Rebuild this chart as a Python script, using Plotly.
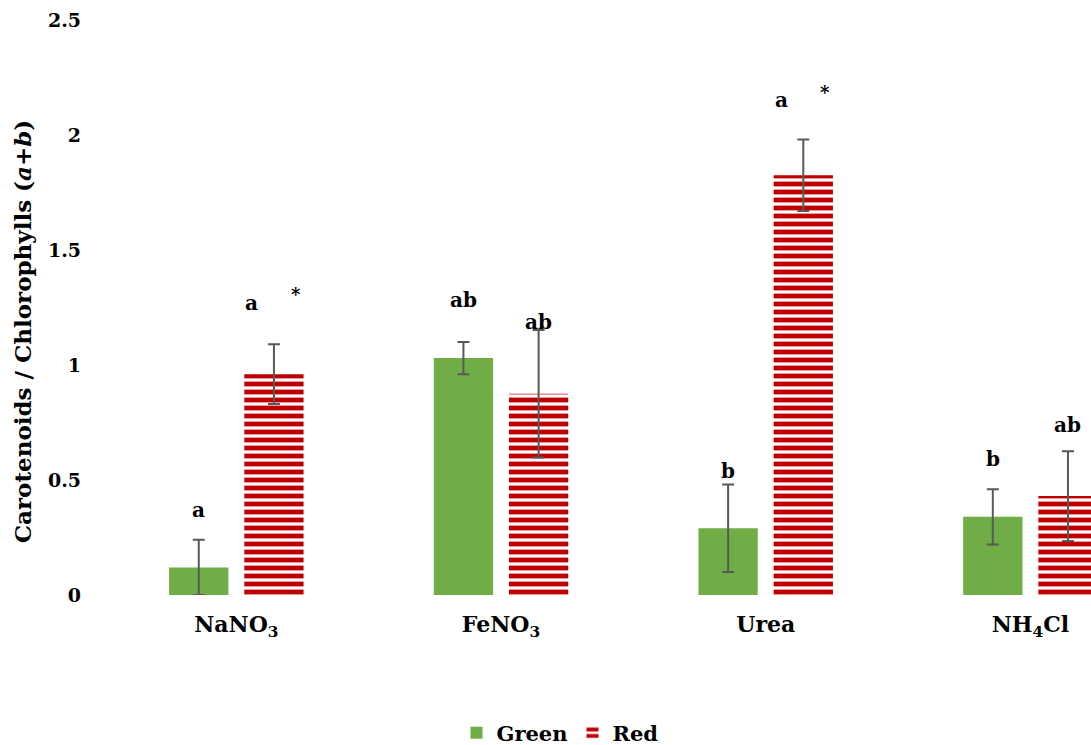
import plotly.graph_objects as go

categories = ["NaNO<sub>3</sub>", "FeNO<sub>3</sub>", "Urea", "NH<sub>4</sub>Cl"]
green = [0.12, 1.03, 0.29, 0.34]
green_err = [0.12, 0.07, 0.19, 0.12]
red = [0.96, 0.875, 1.825, 0.43]
red_err = [0.13, 0.277, 0.155, 0.195]
green_letters = ["a", "ab", "b", "b"]
red_letters = ["a", "ab", "a", "ab"]
red_star = ["*", "", "*", ""]
green_letter_y = [0.37, 1.283, 0.539, 0.591]
red_letter_y = [1.27, 1.187, 2.152, 0.739]
yticks = [0, 0.5, 1, 1.5, 2, 2.5]

FONT = "DejaVu Serif"
GREEN = "#70AD47"
RED = "#C00000"
ERR = "#595959"

idx = list(range(len(categories)))
W = 0.224
OFF_G = -0.254
OFF_R = 0.030

fig = go.Figure()
fig.add_trace(go.Bar(
    x=idx, y=green, name="Green", width=W, offset=OFF_G,
    marker=dict(color=GREEN, line=dict(width=0)),
    error_y=dict(type="data", array=green_err, visible=True, color=ERR, thickness=2, width=6),
))
fig.add_trace(go.Bar(
    x=idx, y=red, name="Red", width=W, offset=OFF_R,
    marker=dict(color=RED, line=dict(width=0),
                pattern=dict(shape="-", size=8, solidity=0.6, fgcolor=RED, fgopacity=1,
                             bgcolor="white", fillmode="replace")),
    error_y=dict(type="data", array=red_err, visible=True, color=ERR, thickness=2, width=6),
))

ann = []
gc = OFF_G + W / 2
rc = OFF_R + W / 2
for i in idx:
    ann.append(dict(x=i + gc, y=green_letter_y[i], xref="x", yref="y", text=green_letters[i],
                    showarrow=False, font=dict(family=FONT, size=20, weight="bold", color="black")))
    if red_star[i]:
        ann.append(dict(x=i + rc, y=red_letter_y[i], xref="x", yref="y", text=red_letters[i],
                        xshift=-22, showarrow=False,
                        font=dict(family=FONT, size=20, weight="bold", color="black")))
        ann.append(dict(x=i + rc, y=red_letter_y[i], xref="x", yref="y", text=red_star[i],
                        xshift=22, yshift=8, showarrow=False,
                        font=dict(family=FONT, size=18, weight="bold", color="black")))
    else:
        ann.append(dict(x=i + rc, y=red_letter_y[i], xref="x", yref="y", text=red_letters[i],
                        showarrow=False, font=dict(family=FONT, size=20, weight="bold", color="black")))

ann.append(dict(x=0, y=0.457, xref="paper", yref="paper", xanchor="center", yanchor="middle",
                xshift=-82, textangle=-90, showarrow=False,
                text="Carotenoids / Chlorophylls (<i>a</i>+<i>b</i>)",
                font=dict(family=FONT, size=23, weight="bold", color="black")))

fig.update_layout(
    template="none",
    width=1091, height=745,
    margin=dict(l=104, r=0, t=20, b=150, autoexpand=False),
    paper_bgcolor="white", plot_bgcolor="white",
    barmode="group",
    showlegend=True,
    legend=dict(orientation="h", x=0.462, xanchor="center",
                yref="container", y=0.016, yanchor="middle",
                font=dict(family=FONT, size=21, weight="bold", color="black")),
    annotations=ann,
    xaxis=dict(range=[-0.5, 3.229], tickvals=idx, ticktext=categories, automargin=False,
               showgrid=False, zeroline=False, showline=False, ticks="",
               ticklabelstandoff=14,
               tickfont=dict(family=FONT, size=22, weight="bold", color="black")),
    yaxis=dict(range=[0, 2.5], tickvals=yticks, automargin=False,
               showgrid=False, zeroline=False, showline=False,
               ticks="", ticklabelstandoff=22,
               tickfont=dict(family=FONT, size=19, weight="bold", color="black")),
)

fig.write_html("out.html", config={"displayModeBar": False},
               post_script="document.body.style.margin='0';document.body.style.overflow='hidden';")
